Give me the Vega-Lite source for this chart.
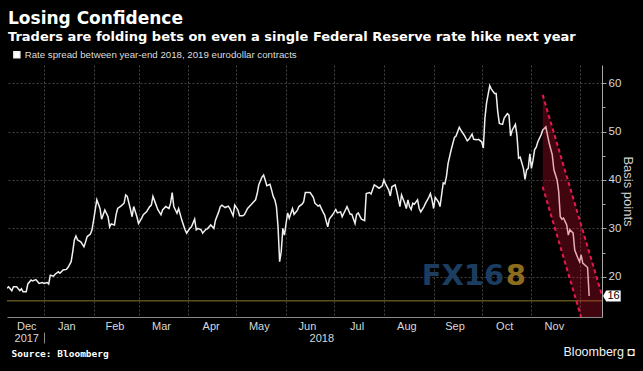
{
  "$schema": "https://vega.github.io/schema/vega-lite/v6.json",
  "width": 595,
  "height": 252,
  "autosize": {"type": "none"},
  "padding": {"left": 7, "top": 65, "right": 41, "bottom": 54},
  "background": "#000000",
  "title": {
    "text": "Losing Confidence",
    "subtitle": "Traders are folding bets on even a single Federal Reserve rate hike next year",
    "anchor": "start",
    "frame": "group",
    "offset": 5,
    "dx": 1,
    "font": "DejaVu Sans",
    "fontSize": 17,
    "fontWeight": "bold",
    "color": "#ffffff",
    "subtitleFont": "DejaVu Sans",
    "subtitleFontSize": 13,
    "subtitleFontWeight": "bold",
    "subtitleColor": "#ffffff",
    "subtitlePadding": 3
  },
  "config": {
    "view": {"stroke": null},
    "axis": {
      "labelFont": "Liberation Sans",
      "titleFont": "Liberation Sans",
      "labelColor": "#d9d9d9",
      "domainColor": "#8a8a8a",
      "tickColor": "#9a9a9a",
      "gridColor": "#555555",
      "gridDash": [2, 2],
      "gridWidth": 0.8,
      "labelFlush": false,
      "labelOverlap": false
    }
  },
  "datasets": {
    "spread": [
      {"date": "2017-12-09", "bp": 17.6}, {"date": "2017-12-10", "bp": 17.9}, {"date": "2017-12-12", "bp": 17.1},
      {"date": "2017-12-13", "bp": 17.9}, {"date": "2017-12-15", "bp": 17.9}, {"date": "2017-12-17", "bp": 17.1},
      {"date": "2017-12-18", "bp": 17.5}, {"date": "2017-12-19", "bp": 16.9}, {"date": "2017-12-21", "bp": 16.9},
      {"date": "2017-12-22", "bp": 18.5}, {"date": "2017-12-24", "bp": 19.3}, {"date": "2017-12-25", "bp": 19.1},
      {"date": "2017-12-27", "bp": 19.4}, {"date": "2017-12-28", "bp": 19.0}, {"date": "2017-12-29", "bp": 18.6},
      {"date": "2017-12-31", "bp": 18.8}, {"date": "2018-01-01", "bp": 18.6}, {"date": "2018-01-03", "bp": 18.8},
      {"date": "2018-01-04", "bp": 18.5}, {"date": "2018-01-05", "bp": 20.3}, {"date": "2018-01-07", "bp": 20.1},
      {"date": "2018-01-08", "bp": 20.5}, {"date": "2018-01-10", "bp": 21.0}, {"date": "2018-01-11", "bp": 20.7},
      {"date": "2018-01-13", "bp": 21.4}, {"date": "2018-01-15", "bp": 21.5}, {"date": "2018-01-16", "bp": 21.9},
      {"date": "2018-01-18", "bp": 23.1}, {"date": "2018-01-19", "bp": 25.2}, {"date": "2018-01-20", "bp": 27.6},
      {"date": "2018-01-21", "bp": 28.4}, {"date": "2018-01-22", "bp": 27.6}, {"date": "2018-01-24", "bp": 27.2},
      {"date": "2018-01-26", "bp": 26.2}, {"date": "2018-01-27", "bp": 27.2}, {"date": "2018-01-28", "bp": 28.3},
      {"date": "2018-01-30", "bp": 28.8}, {"date": "2018-01-31", "bp": 29.7}, {"date": "2018-02-01", "bp": 31.7},
      {"date": "2018-02-03", "bp": 35.9}, {"date": "2018-02-05", "bp": 34.1}, {"date": "2018-02-06", "bp": 31.9},
      {"date": "2018-02-08", "bp": 33.8}, {"date": "2018-02-10", "bp": 32.4}, {"date": "2018-02-11", "bp": 30.3},
      {"date": "2018-02-12", "bp": 30.9}, {"date": "2018-02-14", "bp": 30.7}, {"date": "2018-02-15", "bp": 32.8},
      {"date": "2018-02-16", "bp": 34.1}, {"date": "2018-02-18", "bp": 34.6}, {"date": "2018-02-20", "bp": 35.2},
      {"date": "2018-02-21", "bp": 36.9}, {"date": "2018-02-22", "bp": 36.6}, {"date": "2018-02-24", "bp": 33.9},
      {"date": "2018-02-25", "bp": 32.4}, {"date": "2018-02-26", "bp": 34.5}, {"date": "2018-02-28", "bp": 32.4},
      {"date": "2018-03-01", "bp": 31.0}, {"date": "2018-03-03", "bp": 32.1}, {"date": "2018-03-04", "bp": 32.8},
      {"date": "2018-03-06", "bp": 33.4}, {"date": "2018-03-08", "bp": 34.5}, {"date": "2018-03-09", "bp": 34.8},
      {"date": "2018-03-10", "bp": 36.6}, {"date": "2018-03-12", "bp": 34.8}, {"date": "2018-03-13", "bp": 33.9},
      {"date": "2018-03-15", "bp": 32.8}, {"date": "2018-03-16", "bp": 33.8}, {"date": "2018-03-18", "bp": 34.5},
      {"date": "2018-03-20", "bp": 34.1}, {"date": "2018-03-21", "bp": 35.2}, {"date": "2018-03-22", "bp": 37.4},
      {"date": "2018-03-23", "bp": 34.5}, {"date": "2018-03-25", "bp": 33.1}, {"date": "2018-03-26", "bp": 34.1},
      {"date": "2018-03-28", "bp": 31.7}, {"date": "2018-03-30", "bp": 29.7}, {"date": "2018-03-31", "bp": 29.0},
      {"date": "2018-04-02", "bp": 30.0}, {"date": "2018-04-03", "bp": 30.3}, {"date": "2018-04-05", "bp": 31.9},
      {"date": "2018-04-06", "bp": 29.7}, {"date": "2018-04-07", "bp": 30.0}, {"date": "2018-04-09", "bp": 29.7},
      {"date": "2018-04-10", "bp": 29.0}, {"date": "2018-04-12", "bp": 29.8}, {"date": "2018-04-13", "bp": 29.9},
      {"date": "2018-04-15", "bp": 30.7}, {"date": "2018-04-17", "bp": 30.0}, {"date": "2018-04-18", "bp": 31.7},
      {"date": "2018-04-20", "bp": 33.4}, {"date": "2018-04-21", "bp": 34.5}, {"date": "2018-04-22", "bp": 34.8},
      {"date": "2018-04-24", "bp": 34.3}, {"date": "2018-04-26", "bp": 34.6}, {"date": "2018-04-27", "bp": 34.1},
      {"date": "2018-04-29", "bp": 32.6}, {"date": "2018-04-30", "bp": 34.8}, {"date": "2018-05-02", "bp": 33.8},
      {"date": "2018-05-03", "bp": 32.6}, {"date": "2018-05-05", "bp": 32.6}, {"date": "2018-05-06", "bp": 32.8},
      {"date": "2018-05-08", "bp": 34.1}, {"date": "2018-05-10", "bp": 34.8}, {"date": "2018-05-11", "bp": 35.2},
      {"date": "2018-05-13", "bp": 35.9}, {"date": "2018-05-14", "bp": 37.2}, {"date": "2018-05-15", "bp": 39.0},
      {"date": "2018-05-17", "bp": 40.6}, {"date": "2018-05-18", "bp": 41.0}, {"date": "2018-05-19", "bp": 40.0},
      {"date": "2018-05-20", "bp": 38.8}, {"date": "2018-05-22", "bp": 39.1}, {"date": "2018-05-23", "bp": 37.9},
      {"date": "2018-05-24", "bp": 36.6}, {"date": "2018-05-25", "bp": 35.9}, {"date": "2018-05-26", "bp": 34.5},
      {"date": "2018-05-27", "bp": 30.3}, {"date": "2018-05-28", "bp": 23.1}, {"date": "2018-05-29", "bp": 25.2},
      {"date": "2018-05-30", "bp": 30.0}, {"date": "2018-05-31", "bp": 28.6}, {"date": "2018-06-01", "bp": 31.0},
      {"date": "2018-06-02", "bp": 33.2}, {"date": "2018-06-03", "bp": 32.1}, {"date": "2018-06-05", "bp": 34.1},
      {"date": "2018-06-06", "bp": 32.9}, {"date": "2018-06-08", "bp": 33.7}, {"date": "2018-06-09", "bp": 34.5},
      {"date": "2018-06-11", "bp": 35.0}, {"date": "2018-06-12", "bp": 35.5}, {"date": "2018-06-13", "bp": 37.4},
      {"date": "2018-06-15", "bp": 37.4}, {"date": "2018-06-16", "bp": 37.4}, {"date": "2018-06-18", "bp": 36.4},
      {"date": "2018-06-19", "bp": 35.2}, {"date": "2018-06-21", "bp": 34.6}, {"date": "2018-06-22", "bp": 34.8},
      {"date": "2018-06-24", "bp": 33.4}, {"date": "2018-06-25", "bp": 32.8}, {"date": "2018-06-27", "bp": 30.3},
      {"date": "2018-06-28", "bp": 31.9}, {"date": "2018-06-30", "bp": 32.8}, {"date": "2018-07-02", "bp": 33.9},
      {"date": "2018-07-03", "bp": 33.2}, {"date": "2018-07-05", "bp": 33.4}, {"date": "2018-07-06", "bp": 32.4},
      {"date": "2018-07-08", "bp": 33.8}, {"date": "2018-07-09", "bp": 34.5}, {"date": "2018-07-11", "bp": 32.9},
      {"date": "2018-07-12", "bp": 32.9}, {"date": "2018-07-14", "bp": 31.0}, {"date": "2018-07-15", "bp": 32.9},
      {"date": "2018-07-16", "bp": 33.2}, {"date": "2018-07-18", "bp": 31.9}, {"date": "2018-07-20", "bp": 31.6},
      {"date": "2018-07-21", "bp": 37.2}, {"date": "2018-07-23", "bp": 37.4}, {"date": "2018-07-24", "bp": 37.1},
      {"date": "2018-07-26", "bp": 39.0}, {"date": "2018-07-27", "bp": 38.8}, {"date": "2018-07-29", "bp": 38.3},
      {"date": "2018-07-31", "bp": 38.8}, {"date": "2018-08-01", "bp": 40.0}, {"date": "2018-08-02", "bp": 39.2},
      {"date": "2018-08-04", "bp": 37.9}, {"date": "2018-08-05", "bp": 36.7}, {"date": "2018-08-06", "bp": 38.6},
      {"date": "2018-08-08", "bp": 39.0}, {"date": "2018-08-09", "bp": 37.7}, {"date": "2018-08-11", "bp": 34.5},
      {"date": "2018-08-12", "bp": 36.9}, {"date": "2018-08-14", "bp": 35.2}, {"date": "2018-08-15", "bp": 34.1},
      {"date": "2018-08-16", "bp": 35.9}, {"date": "2018-08-17", "bp": 34.5}, {"date": "2018-08-18", "bp": 33.9},
      {"date": "2018-08-19", "bp": 35.2}, {"date": "2018-08-20", "bp": 35.0}, {"date": "2018-08-22", "bp": 35.9},
      {"date": "2018-08-23", "bp": 34.1}, {"date": "2018-08-24", "bp": 33.4}, {"date": "2018-08-26", "bp": 34.5},
      {"date": "2018-08-27", "bp": 35.2}, {"date": "2018-08-29", "bp": 36.4}, {"date": "2018-08-30", "bp": 37.2},
      {"date": "2018-08-31", "bp": 35.9}, {"date": "2018-09-01", "bp": 34.1}, {"date": "2018-09-02", "bp": 36.4},
      {"date": "2018-09-04", "bp": 35.5}, {"date": "2018-09-05", "bp": 34.5}, {"date": "2018-09-07", "bp": 39.4},
      {"date": "2018-09-08", "bp": 39.2}, {"date": "2018-09-09", "bp": 40.7}, {"date": "2018-09-10", "bp": 43.4},
      {"date": "2018-09-12", "bp": 46.3}, {"date": "2018-09-14", "bp": 48.8}, {"date": "2018-09-15", "bp": 49.1},
      {"date": "2018-09-17", "bp": 50.9}, {"date": "2018-09-18", "bp": 50.3}, {"date": "2018-09-20", "bp": 49.3},
      {"date": "2018-09-22", "bp": 48.1}, {"date": "2018-09-23", "bp": 48.4}, {"date": "2018-09-25", "bp": 49.5},
      {"date": "2018-09-26", "bp": 48.4}, {"date": "2018-09-28", "bp": 48.3}, {"date": "2018-09-29", "bp": 48.4},
      {"date": "2018-10-01", "bp": 47.9}, {"date": "2018-10-02", "bp": 46.6}, {"date": "2018-10-03", "bp": 52.8},
      {"date": "2018-10-04", "bp": 55.9}, {"date": "2018-10-06", "bp": 59.5}, {"date": "2018-10-07", "bp": 58.8},
      {"date": "2018-10-09", "bp": 57.9}, {"date": "2018-10-10", "bp": 57.9}, {"date": "2018-10-11", "bp": 54.1},
      {"date": "2018-10-12", "bp": 51.7}, {"date": "2018-10-14", "bp": 51.5}, {"date": "2018-10-15", "bp": 52.8},
      {"date": "2018-10-17", "bp": 53.7}, {"date": "2018-10-18", "bp": 53.4}, {"date": "2018-10-19", "bp": 49.1},
      {"date": "2018-10-20", "bp": 50.3}, {"date": "2018-10-22", "bp": 51.5}, {"date": "2018-10-23", "bp": 49.1},
      {"date": "2018-10-24", "bp": 44.5}, {"date": "2018-10-25", "bp": 44.7}, {"date": "2018-10-27", "bp": 42.4},
      {"date": "2018-10-28", "bp": 40.1}, {"date": "2018-10-29", "bp": 42.1}, {"date": "2018-10-30", "bp": 42.4},
      {"date": "2018-10-31", "bp": 45.4}, {"date": "2018-11-01", "bp": 42.4}, {"date": "2018-11-02", "bp": 44.1},
      {"date": "2018-11-03", "bp": 46.3}, {"date": "2018-11-04", "bp": 46.8}, {"date": "2018-11-05", "bp": 47.9},
      {"date": "2018-11-07", "bp": 49.3}, {"date": "2018-11-08", "bp": 50.3}, {"date": "2018-11-10", "bp": 51.0},
      {"date": "2018-11-11", "bp": 49.3}, {"date": "2018-11-12", "bp": 47.7}, {"date": "2018-11-14", "bp": 45.2},
      {"date": "2018-11-15", "bp": 42.1}, {"date": "2018-11-17", "bp": 40.0}, {"date": "2018-11-18", "bp": 37.6},
      {"date": "2018-11-19", "bp": 32.4}, {"date": "2018-11-20", "bp": 31.9}, {"date": "2018-11-21", "bp": 32.1},
      {"date": "2018-11-23", "bp": 30.7}, {"date": "2018-11-24", "bp": 28.6}, {"date": "2018-11-25", "bp": 29.7},
      {"date": "2018-11-27", "bp": 29.0}, {"date": "2018-11-28", "bp": 25.5}, {"date": "2018-11-30", "bp": 23.8},
      {"date": "2018-12-01", "bp": 23.1}, {"date": "2018-12-02", "bp": 24.5}, {"date": "2018-12-03", "bp": 22.8},
      {"date": "2018-12-05", "bp": 22.2}, {"date": "2018-12-06", "bp": 21.9}, {"date": "2018-12-07", "bp": 16.0}
    ],
    "ref": [{"level": 15}],
    "channel": [
      {"t": "2018-11-08", "hi": 57.6, "lo": 38.6},
      {"t": "2018-12-15", "hi": 16.1, "lo": -3.0}
    ],
    "bounds": [
      {"t1": "2018-11-08", "v1": 57.6, "t2": "2018-12-15", "v2": 16.1},
      {"t1": "2018-11-08", "v1": 38.6, "t2": "2018-12-15", "v2": -3.0}
    ],
    "last": [{"v": 16, "label": "16"}],
    "stamp": [{"t": "2018-10-15", "v": 20.1, "txt": "FX16"}, {"t": "2018-10-16", "v": 20.1, "txt": "8"}]
  },
  "resolve": {"axis": {"x": "independent", "y": "independent"}},
  "layer": [
    {
      "data": {"name": "ref"},
      "mark": {"type": "rule", "color": "#8c7a2c", "strokeWidth": 1},
      "encoding": {
        "y": {"field": "level", "type": "quantitative", "scale": {"domain": [11.66, 63.78], "nice": false, "zero": false}, "axis": null}
      }
    },
    {
      "data": {"name": "spread"},
      "mark": {"type": "line", "strokeWidth": 1.5, "clip": true},
      "encoding": {
        "x": {
          "field": "date", "type": "temporal",
          "scale": {"domain": [{"year": 2017, "month": 12, "date": 9}, {"year": 2018, "month": 12, "date": 15}], "nice": false},
          "axis": {
            "orient": "bottom",
            "values": [
              {"year": 2018, "month": 1, "date": 1}, {"year": 2018, "month": 2, "date": 1}, {"year": 2018, "month": 3, "date": 1},
              {"year": 2018, "month": 4, "date": 1}, {"year": 2018, "month": 5, "date": 1}, {"year": 2018, "month": 6, "date": 1},
              {"year": 2018, "month": 7, "date": 1}, {"year": 2018, "month": 8, "date": 1}, {"year": 2018, "month": 9, "date": 1},
              {"year": 2018, "month": 10, "date": 1}, {"year": 2018, "month": 11, "date": 1}, {"year": 2018, "month": 12, "date": 1}
            ],
            "grid": true, "ticks": false, "labels": false, "domain": true, "title": null
          }
        },
        "y": {
          "field": "bp", "type": "quantitative",
          "scale": {"domain": [11.66, 63.78], "nice": false, "zero": false},
          "axis": {
            "orient": "right", "values": [20, 30, 40, 50, 60], "grid": true,
            "tickSize": 4, "labelPadding": 2, "labelFontSize": 11.5,
            "domainColor": "#a8a8a8", "tickColor": "#a8a8a8",
            "title": "Basis points", "titleX": 25, "titleY": 126, "titleAngle": 90,
            "titleAlign": "center", "titleBaseline": "middle", "titleFontSize": 13,
            "titleFontWeight": "normal", "titleColor": "#cfcfcf"
          }
        },
        "color": {
          "datum": "Rate spread between year-end 2018, 2019 eurodollar contracts",
          "scale": {"range": ["#f0f0f0"]},
          "legend": {
            "orient": "none", "legendX": 5, "legendY": -15, "title": null,
            "symbolType": "square", "symbolSize": 36, "symbolFillColor": "#ffffff", "symbolStrokeColor": "#ffffff",
            "labelColor": "#dddddd", "labelFont": "Liberation Sans", "labelFontSize": 9.7, "labelOffset": 3,
            "labelLimit": 500, "padding": 0
          }
        }
      }
    },
    {
      "data": {"name": "channel"},
      "mark": {"type": "area", "color": "#d41030", "opacity": 0.3, "clip": true},
      "encoding": {
        "x": {
          "field": "t", "type": "temporal",
          "scale": {"domain": [{"year": 2017, "month": 12, "date": 9}, {"year": 2018, "month": 12, "date": 15}], "nice": false},
          "axis": {
            "orient": "bottom",
            "values": [
              {"year": 2017, "month": 12, "date": 21}, {"year": 2018, "month": 1, "date": 15}, {"year": 2018, "month": 2, "date": 14},
              {"year": 2018, "month": 3, "date": 15}, {"year": 2018, "month": 4, "date": 15}, {"year": 2018, "month": 5, "date": 15},
              {"year": 2018, "month": 6, "date": 14}, {"year": 2018, "month": 7, "date": 15}, {"year": 2018, "month": 8, "date": 15},
              {"year": 2018, "month": 9, "date": 14}, {"year": 2018, "month": 10, "date": 15}, {"year": 2018, "month": 11, "date": 15}
            ],
            "format": "%b", "grid": false, "ticks": false, "tickSize": 0, "domain": false,
            "labelPadding": 3, "labelFontSize": 11, "title": null
          }
        },
        "y": {
          "field": "hi", "type": "quantitative",
          "scale": {"domain": [11.66, 63.78], "nice": false, "zero": false},
          "axis": {"orient": "right", "values": [25, 35, 45, 55], "ticks": true, "tickSize": 3, "tickColor": "#a8a8a8", "labels": false, "domain": false, "grid": false, "title": null}
        },
        "y2": {"field": "lo"}
      }
    },
    {
      "data": {"name": "bounds"},
      "mark": {"type": "rule", "color": "#e8194b", "strokeWidth": 2, "strokeDash": [4, 3], "clip": true},
      "encoding": {
        "x": {
          "field": "t1", "type": "temporal",
          "scale": {"domain": [{"year": 2017, "month": 12, "date": 9}, {"year": 2018, "month": 12, "date": 15}], "nice": false},
          "axis": {
            "orient": "bottom",
            "values": [{"year": 2017, "month": 12, "date": 21}, {"year": 2018, "month": 6, "date": 23}],
            "format": "%Y", "grid": false, "ticks": false, "tickSize": 0, "domain": false,
            "labelPadding": 15, "labelFontSize": 11,
            "title": "Source: Bloomberg", "titleX": 4, "titleY": 39, "titleAlign": "left", "titleAngle": 0,
            "titleBaseline": "alphabetic", "titleFont": "DejaVu Sans Mono", "titleFontWeight": "bold",
            "titleFontSize": 9.5, "titleColor": "#ffffff"
          }
        },
        "y": {"field": "v1", "type": "quantitative", "scale": {"domain": [11.66, 63.78], "nice": false, "zero": false}, "axis": null},
        "x2": {"field": "t2"},
        "y2": {"field": "v2"}
      }
    },
    {
      "data": {"name": "last"},
      "mark": {"type": "point", "shape": "M0.2,0L0.75,-1L3.4,-1L3.4,1L0.75,1Z", "filled": true, "color": "#ffffff", "opacity": 1, "size": 121},
      "encoding": {
        "x": {
          "datum": {"year": 2018, "month": 12, "date": 15}, "type": "temporal",
          "scale": {"domain": [{"year": 2017, "month": 12, "date": 9}, {"year": 2018, "month": 12, "date": 15}], "nice": false},
          "axis": {
            "orient": "bottom",
            "values": [{"year": 2018, "month": 1, "date": 1}], "offset": 15,
            "ticks": true, "tickSize": 11, "tickColor": "#8a8a8a", "labels": false, "domain": false, "grid": false, "title": null
          }
        },
        "y": {"field": "v", "type": "quantitative", "scale": {"domain": [11.66, 63.78], "nice": false, "zero": false}, "axis": null}
      }
    },
    {
      "data": {"name": "last"},
      "mark": {"type": "text", "color": "#000000", "fontSize": 11, "font": "Liberation Sans", "dx": 11.5, "align": "center", "baseline": "middle"},
      "encoding": {
        "x": {
          "datum": {"year": 2018, "month": 12, "date": 15}, "type": "temporal",
          "scale": {"domain": [{"year": 2017, "month": 12, "date": 9}, {"year": 2018, "month": 12, "date": 15}], "nice": false},
          "axis": {
            "orient": "bottom",
            "labels": false, "ticks": false, "domain": false, "grid": false,
            "title": "Bloomberg ◘", "titleX": 627.5, "titleY": 38.5, "titleAlign": "right", "titleAngle": 0,
            "titleBaseline": "alphabetic", "titleFont": "Liberation Sans", "titleFontWeight": "normal",
            "titleFontSize": 12.5, "titleColor": "#f0f0f0"
          }
        },
        "y": {"field": "v", "type": "quantitative", "scale": {"domain": [11.66, 63.78], "nice": false, "zero": false}, "axis": null},
        "text": {"field": "label"}
      }
    },
    {
      "data": {"name": "stamp"},
      "transform": [{"filter": "datum.txt == 'FX16'"}],
      "mark": {"type": "text", "color": "#1b3d60", "fontSize": 29, "font": "DejaVu Sans", "fontWeight": "bold", "align": "right", "baseline": "middle"},
      "encoding": {
        "x": {"field": "t", "type": "temporal", "scale": {"domain": [{"year": 2017, "month": 12, "date": 9}, {"year": 2018, "month": 12, "date": 15}], "nice": false}, "axis": null},
        "y": {"field": "v", "type": "quantitative", "scale": {"domain": [11.66, 63.78], "nice": false, "zero": false}, "axis": null},
        "text": {"field": "txt"}
      }
    },
    {
      "data": {"name": "stamp"},
      "transform": [{"filter": "datum.txt == '8'"}],
      "mark": {"type": "text", "color": "#8d6b1f", "fontSize": 29, "font": "DejaVu Sans", "fontWeight": "bold", "align": "left", "baseline": "middle"},
      "encoding": {
        "x": {"field": "t", "type": "temporal", "scale": {"domain": [{"year": 2017, "month": 12, "date": 9}, {"year": 2018, "month": 12, "date": 15}], "nice": false}, "axis": null},
        "y": {"field": "v", "type": "quantitative", "scale": {"domain": [11.66, 63.78], "nice": false, "zero": false}, "axis": null},
        "text": {"field": "txt"}
      }
    }
  ]
}
